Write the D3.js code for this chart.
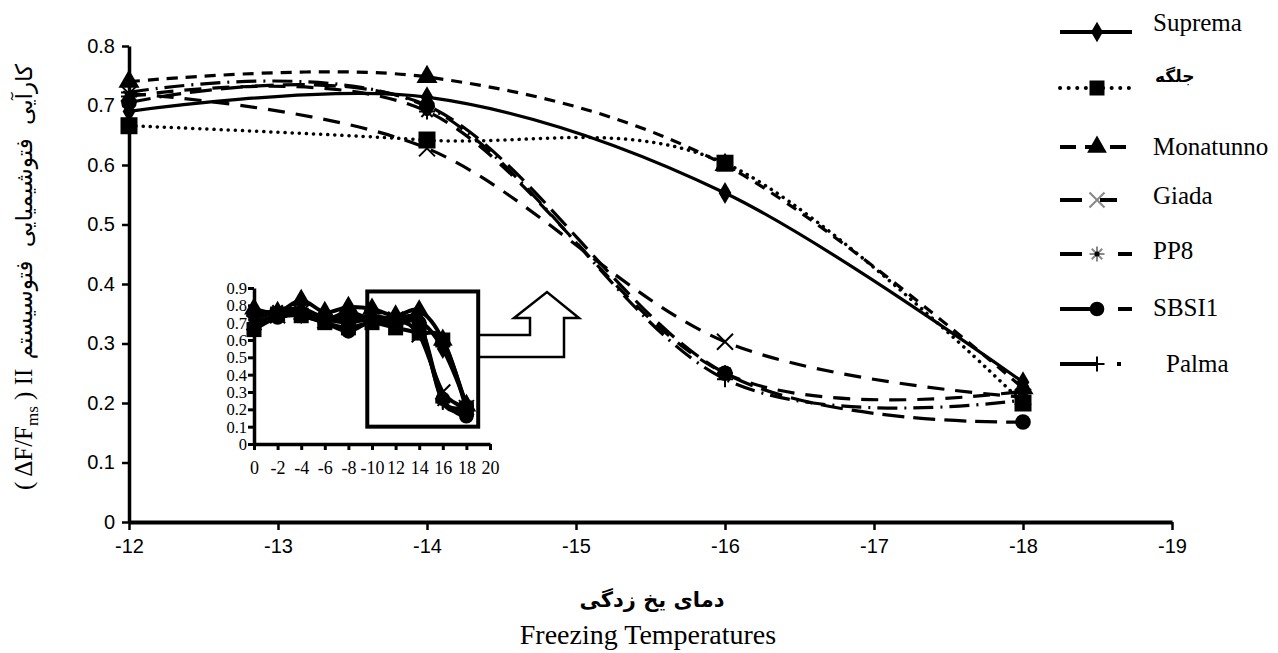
<!DOCTYPE html>
<html>
<head>
<meta charset="utf-8">
<script src="https://cdn.jsdelivr.net/npm/d3@7"></script>
<style>
  body { margin: 0; background: #fff; }
  .axis text { font-family: "Liberation Sans", Arial, sans-serif; font-size: 20px; fill: #000; }
  .axis path, .axis line { stroke: #000; }
  .inset-axis text { font-family: "Liberation Serif", "Times New Roman", serif; font-size: 16.5px; fill: #000; }
  .inset-axis path, .inset-axis line { stroke: #000; }
</style>
</head>
<body>
<script>
var width = 1278,
    height = 653;

// main chart data
var temps = [-12, -14, -16, -18];
var cultivars = ["Suprema", "جلگه", "Monatunno", "Giada", "PP8", "SBSI1", "Palma"];
var suprema   = [0.690, 0.714, 0.553, 0.235];
var jolgeh    = [0.666, 0.642, 0.603, 0.200];
var monatunno = [0.740, 0.748, 0.600, 0.225];
var giada     = [0.720, 0.628, 0.303, 0.210];
var pp8       = [0.715, 0.690, 0.250, 0.220];
var sbsi1     = [0.705, 0.700, 0.250, 0.168];
var palma     = [0.722, 0.698, 0.240, 0.205];

var xTicks = [-12, -13, -14, -15, -16, -17, -18, -19];
var yTicks = [0, 0.1, 0.2, 0.3, 0.4, 0.5, 0.6, 0.7, 0.8];

// inset chart data (0 .. -18, every 2 degrees)
var insetTemps = [0, 2, 4, 6, 8, 10, 12, 14, 16, 18];
var insetTickValues = [0, 2, 4, 6, 8, 10, 12, 14, 16, 18, 20];
var insetTickLabels = ["0", "-2", "-4", "-6", "-8", "-10", "12", "14", "16", "18", "20"];
var insetYTicks = [0, 0.1, 0.2, 0.3, 0.4, 0.5, 0.6, 0.7, 0.8, 0.9];
var insetSuprema   = [0.72, 0.76, 0.75, 0.72, 0.70, 0.72, 0.69, 0.71, 0.55, 0.23];
var insetJolgeh    = [0.66, 0.75, 0.74, 0.70, 0.67, 0.70, 0.67, 0.64, 0.60, 0.20];
var insetMonatunno = [0.78, 0.76, 0.83, 0.76, 0.79, 0.78, 0.74, 0.77, 0.60, 0.22];
var insetGiada     = [0.70, 0.74, 0.76, 0.71, 0.74, 0.73, 0.72, 0.63, 0.30, 0.21];
var insetPP8       = [0.74, 0.77, 0.78, 0.73, 0.72, 0.74, 0.71, 0.69, 0.25, 0.22];
var insetSBSI1     = [0.66, 0.73, 0.74, 0.70, 0.65, 0.71, 0.70, 0.70, 0.26, 0.16];
var insetPalma     = [0.75, 0.75, 0.77, 0.72, 0.76, 0.72, 0.72, 0.70, 0.24, 0.20];

var mainValues = [suprema, jolgeh, monatunno, giada, pp8, sbsi1, palma];
var insetValues = [insetSuprema, insetJolgeh, insetMonatunno, insetGiada, insetPP8, insetSBSI1, insetPalma];

// line and marker style per cultivar
var dashes  = [null, "0.1,7", "11,8", "17,11", "17,11", "22,9", "20,7,2,7"];
var legendDashes = [null, "0.1,8.5", "16,9", "22,18,17,40", "22,36,14,40", "30,28,14,40", "37,20,4,40"];
var markers = ["diamond", "square", "triangle", "x", "asterisk", "circle", "plus"];

var svg = d3.select("body").append("svg")
    .attr("width", width)
    .attr("height", height);

var x = d3.scaleLinear().domain([-12, -19]).range([129, 1172]);
var y = d3.scaleLinear().domain([0, 0.8]).range([522, 46]);

function markerPath(type, size) {
  var s = size / 2;
  if (type == "diamond") return d3.symbol(d3.symbolDiamond, size * size * 0.55)();
  if (type == "square") return d3.symbol(d3.symbolSquare, size * size)();
  if (type == "triangle") return d3.symbol(d3.symbolTriangle, size * size * 0.75)();
  if (type == "circle") return d3.symbol(d3.symbolCircle, size * size * 0.75)();
  if (type == "x") return "M" + (-s) + "," + (-s) + "L" + s + "," + s + "M" + (-s) + "," + s + "L" + s + "," + (-s);
  if (type == "plus") return "M" + (-s) + ",0L" + s + ",0M0," + (-s) + "L0," + s;
  if (type == "asterisk") {
    var a = s * 0.7;
    return "M" + (-s) + ",0L" + s + ",0M0," + (-s) + "L0," + s +
      "M" + (-a) + "," + (-a) + "L" + a + "," + a + "M" + (-a) + "," + a + "L" + a + "," + (-a);
  }
}

function drawMarker(sel, type, size, cx, cy, color) {
  var filled = ["diamond", "square", "triangle", "circle"].indexOf(type) >= 0;
  var m = sel.append("path")
    .attr("transform", "translate(" + cx + "," + cy + ")")
    .attr("d", markerPath(type, size));
  if (filled) m.attr("fill", color).attr("stroke", "none");
  else m.attr("fill", "none").attr("stroke", color).attr("stroke-width", 2);
  if (type == "asterisk") {
    sel.append("circle").attr("cx", cx).attr("cy", cy).attr("r", size * 0.3).attr("fill", color);
  }
}

// ---- main axes ----
var yAxis = svg.append("g")
    .attr("class", "axis")
    .attr("transform", "translate(129,0)")
    .call(d3.axisLeft(y).tickValues(yTicks).tickSize(7).tickSizeOuter(0)
      .tickFormat(function(d) { return d === 0 ? "0" : d3.format(".1f")(d); }));
yAxis.select(".domain").attr("stroke-width", 3.5);
yAxis.selectAll(".tick line").attr("stroke-width", 2.5);
yAxis.selectAll(".tick text").attr("x", -14);

var xAxis = svg.append("g")
    .attr("class", "axis")
    .attr("transform", "translate(0,522)")
    .call(d3.axisBottom(x).tickValues(xTicks).tickSize(8).tickSizeOuter(0)
      .tickFormat(function(d) { return d; }));
xAxis.select(".domain").attr("stroke-width", 4);
xAxis.selectAll(".tick line").attr("stroke-width", 2.5);
xAxis.selectAll(".tick text").attr("y", 17);

// ---- main lines ----
var line = d3.line()
    .x(function(d, i) { return x(temps[i]); })
    .y(function(d) { return y(d); })
    .curve(d3.curveCardinal.tension(0));

var series = svg.append("g").attr("class", "series");

mainValues.forEach(function(vals, k) {
  series.append("path")
    .datum(vals)
    .attr("d", line)
    .attr("fill", "none")
    .attr("stroke", "#000")
    .attr("stroke-width", k == 1 ? 3.5 : 3.2)
    .attr("stroke-linecap", k == 1 ? "round" : "butt")
    .attr("stroke-dasharray", dashes[k]);
});

mainValues.forEach(function(vals, k) {
  vals.forEach(function(v, i) {
    drawMarker(series, markers[k], k == 1 ? 17 : 16, x(temps[i]), y(v), "#000");
  });
});

// ---- inset ----
var ix = d3.scaleLinear().domain([0, 20]).range([254, 490]);
var iy = d3.scaleLinear().domain([0, 0.9]).range([444, 288]);

var inset = svg.append("g").attr("class", "inset");

var iyAxis = inset.append("g")
    .attr("class", "inset-axis")
    .attr("transform", "translate(254,0)")
    .call(d3.axisLeft(iy).tickValues(insetYTicks).tickSize(6).tickSizeOuter(0)
      .tickFormat(function(d) { return d === 0 ? "0" : d3.format(".1f")(d); }));
iyAxis.select(".domain").attr("stroke-width", 3.5);
iyAxis.selectAll(".tick line").attr("stroke-width", 3);
iyAxis.selectAll(".tick text").attr("x", -7).attr("dy", "0.33em");

var ixAxis = inset.append("g")
    .attr("class", "inset-axis")
    .attr("transform", "translate(0,444)")
    .call(d3.axisBottom(ix).tickValues(insetTickValues).tickSize(6).tickSizeOuter(0)
      .tickFormat(function(d, i) { return insetTickLabels[i]; }));
ixAxis.select(".domain").attr("stroke-width", 3.5);
ixAxis.selectAll(".tick line").attr("stroke-width", 3);
ixAxis.selectAll(".tick text").attr("y", 17).style("font-size", "18px");

var iline = d3.line()
    .x(function(d, i) { return ix(insetTemps[i]); })
    .y(function(d) { return iy(d); })
    .curve(d3.curveCardinal.tension(0));

insetValues.forEach(function(vals, k) {
  inset.append("path")
    .datum(vals)
    .attr("d", iline)
    .attr("fill", "none")
    .attr("stroke", "#000")
    .attr("stroke-width", 4);
});
insetValues.forEach(function(vals, k) {
  vals.forEach(function(v, i) {
    drawMarker(inset, markers[k], 15, ix(insetTemps[i]), iy(v), "#000");
  });
});

// zoom box and arrow
inset.append("rect")
    .attr("x", ix(9.6)).attr("y", iy(0.88))
    .attr("width", ix(19) - ix(9.6)).attr("height", iy(0.1) - iy(0.88))
    .attr("fill", "none").attr("stroke", "#000").attr("stroke-width", 4);

var bx = ix(19);
inset.append("path")
    .attr("d", "M" + bx + ",335 L530,335 L530,318 L514,318 L547,292 L579,318 L564,318 L564,357 L" + bx + ",357")
    .attr("fill", "none").attr("stroke", "#000").attr("stroke-width", 2.5)
    .attr("stroke-linejoin", "miter");

// ---- legend ----
var legendY = [32, 88, 147, 200, 254, 309, 364];
var legendTextY = [31, 82, 155, 204, 259, 316, 372];
var legendTextX = [1153, 1155, 1153, 1153, 1153, 1153, 1166];

var legend = svg.selectAll(".legend")
    .data(cultivars)
  .enter().append("g")
    .attr("class", "legend");

legend.append("line")
    .attr("x1", 1060).attr("x2", 1132)
    .attr("y1", function(d, i) { return legendY[i]; })
    .attr("y2", function(d, i) { return legendY[i]; })
    .attr("stroke", "#000")
    .attr("stroke-width", 4)
    .attr("stroke-linecap", function(d, i) { return i == 1 ? "round" : "butt"; })
    .attr("stroke-dasharray", function(d, i) { return legendDashes[i]; });

legend.each(function(d, i) {
  var col = (markers[i] == "x" || markers[i] == "asterisk") ? "#888" : "#000";
  var g = d3.select(this);
  drawMarker(g, markers[i], 15, 1097, legendY[i], col);
  if (markers[i] == "asterisk") g.select("circle").attr("fill", "#000").attr("r", 2.5);
});

legend.append("text")
    .attr("x", function(d, i) { return legendTextX[i]; })
    .attr("y", function(d, i) { return legendTextY[i]; })
    .style("font-family", function(d, i) { return i == 1 ? "'DejaVu Sans', sans-serif" : "'Liberation Serif', serif"; })
    .style("font-size", function(d, i) { return i == 1 ? "17px" : "25px"; })
    .style("font-weight", function(d, i) { return i == 1 ? "bold" : "normal"; })
    .text(function(d) { return d; });

// ---- axis titles ----
svg.append("text")
    .attr("x", 652).attr("y", 607)
    .attr("text-anchor", "middle")
    .style("font-family", "'DejaVu Sans', sans-serif")
    .style("font-size", "21px")
    .style("font-weight", "bold")
    .text("دمای یخ زدگی");

svg.append("text")
    .attr("x", 648).attr("y", 644)
    .attr("text-anchor", "middle")
    .style("font-family", "'Liberation Serif', serif")
    .style("font-size", "28px")
    .text("Freezing Temperatures");

var ylab = svg.append("g").attr("transform", "translate(32,0) rotate(-90)");
var latin = ylab.append("text")
    .attr("x", -490).attr("y", 0)
    .style("font-family", "'Liberation Serif', serif")
    .style("font-size", "25px");
latin.append("tspan").text("( \u0394F/F");
latin.append("tspan").attr("dy", 6).style("font-size", "17px").text("ms");
latin.append("tspan").attr("dy", -6).text(" ) II");

ylab.append("text")
    .attr("x", -64).attr("y", 0)
    .attr("text-anchor", "end")
    .style("font-family", "'DejaVu Sans', sans-serif")
    .style("font-size", "23px")
    .style("word-spacing", "6px")
    .text("کارآیی فتوشیمیایی فتوسیستم");
</script>
</body>
</html>
